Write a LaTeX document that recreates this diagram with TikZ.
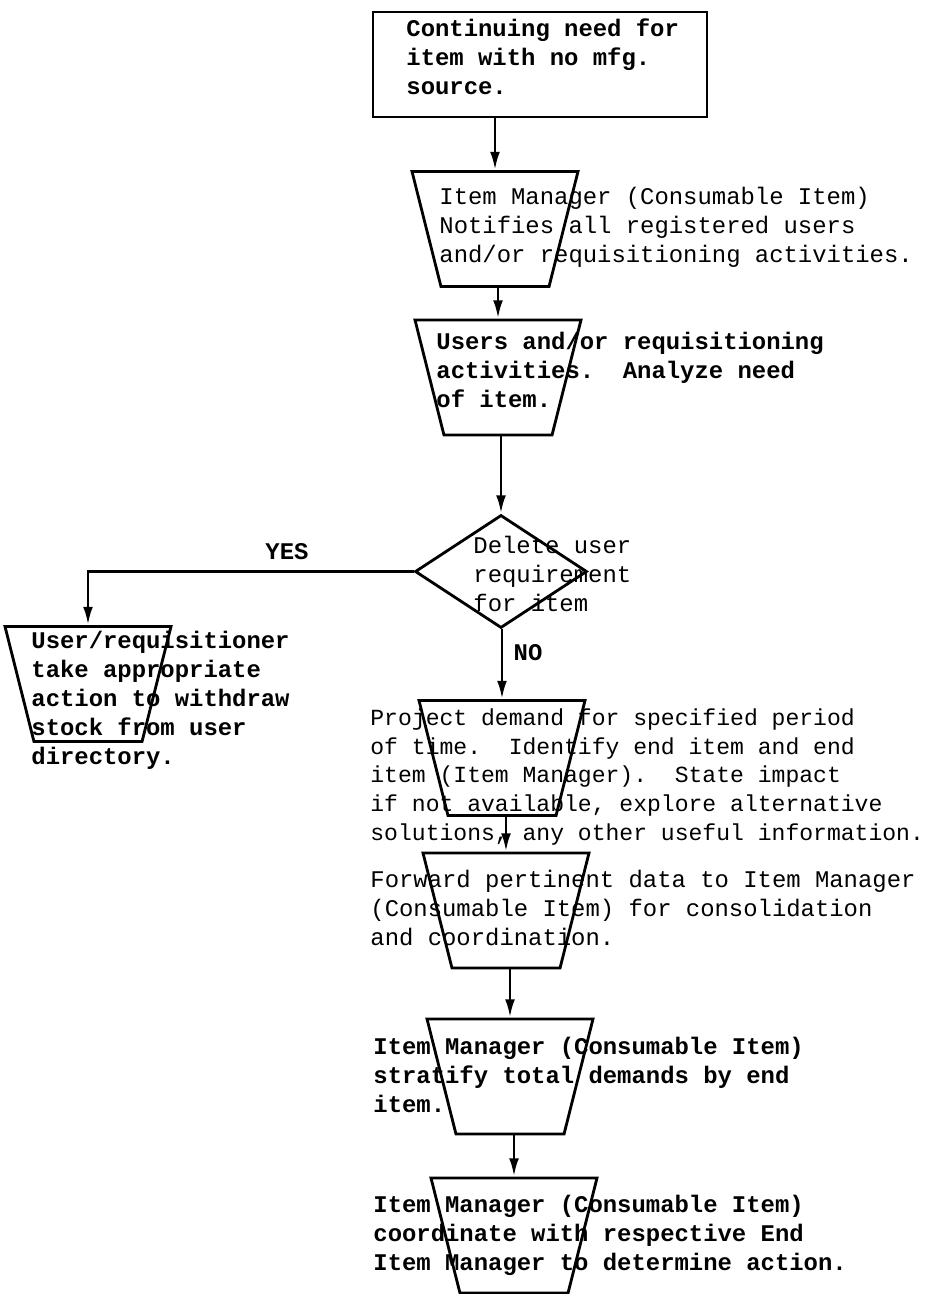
\documentclass[tikz,border=0pt]{standalone}
\usepackage{fontspec}
\setmonofont{Liberation Mono}
\usetikzlibrary{shapes.geometric,arrows.meta}

\begin{document}
\begin{tikzpicture}[x=0.025cm, y=-0.025cm, line width=2pt,
  card/.style={draw, trapezium, shape border rotate=180, trapezium left angle=75,
    trapezium right angle=75, trapezium stretches=true,
    minimum width=4.15cm, minimum height=2.875cm, inner sep=2pt},
  note/.style={anchor=west, inner sep=0pt, align=left,
    font=\ttfamily\fontsize{17}{20.6}\selectfont},
  bnote/.style={note, font=\ttfamily\bfseries\fontsize{17}{20.6}\selectfont},
  flow/.style={-{Latex[length=13pt,width=7pt]}}]

\useasboundingbox (0,0) rectangle (941,1294);

\node[draw, minimum width=8.35cm, minimum height=2.625cm] (need) at (540,64.5) {};
\node[bnote] (needtxt) at (405,57) {Continuing need for\\item with no mfg.\\source.};

\node[card] (notify) at (495,229) {};
\node[note] (notifytxt) at (438,227) {Item Manager (Consumable Item)\\Notifies all registered users\\and/or requisitioning activities.};

\node[card] (analyze) at (498,377.5) {};
\node[bnote] (analyzetxt) at (435,370) {Users and/or requisitioning\\activities.\ \ Analyze need\\of item.};

\node[draw, diamond, minimum width=4.3cm, minimum height=2.825cm, inner sep=0pt] (delete) at (501,571.5) {};
\node[note] (deletetxt) at (472,574) {Delete user\\requirement\\for item};

\node[bnote, anchor=center] (yes) at (287,552) {YES};
\node[bnote, anchor=center] (no) at (528,653) {NO};

\node[card] (withdraw) at (88,684) {};
\node[bnote] (withdrawtxt) at (30,700.5) {User/requisitioner\\take appropriate\\action to withdraw\\stock from user\\directory.};

\node[card] (project) at (502,758) {};
\node[note, font=\ttfamily\fontsize{16.4}{20.6}\selectfont] (projecttxt) at (369,777) {Project demand for specified period\\of time.\ \ Identify end item and end\\item (Item Manager).\ \ State impact\\if not available, explore alternative\\solutions, any other useful information.};

\node[card] (forward) at (506,910.5) {};
\node[note] (forwardtxt) at (369,908) {Forward pertinent data to Item Manager\\(Consumable Item) for consolidation\\and coordination.};

\node[card] (stratify) at (510,1076.5) {};
\node[bnote] (stratifytxt) at (372,1075) {Item Manager (Consumable Item)\\stratify total demands by end\\item.};

\node[card] (coord) at (514,1235.5) {};
\node[bnote] (coordtxt) at (372,1235) {Item Manager (Consumable Item)\\coordinate with respective End\\Item Manager to determine action.};

% flow
\draw[flow] (notify.north |- need.south) -- (notify.north);
\draw[flow] (analyze.north |- notify.south) -- (analyze.north);
\draw[flow] (delete.north |- analyze.south) -- (delete.north);
\draw[flow] (delete.west) -| (withdraw.north);
\draw[flow] (project.north |- delete.south) -- (project.north);
\draw[flow] (forward.north |- project.south) -- (forward.north);
\draw[flow] (stratify.north |- forward.south) -- (stratify.north);
\draw[flow] (coord.north |- stratify.south) -- (coord.north);

\end{tikzpicture}
\end{document}
